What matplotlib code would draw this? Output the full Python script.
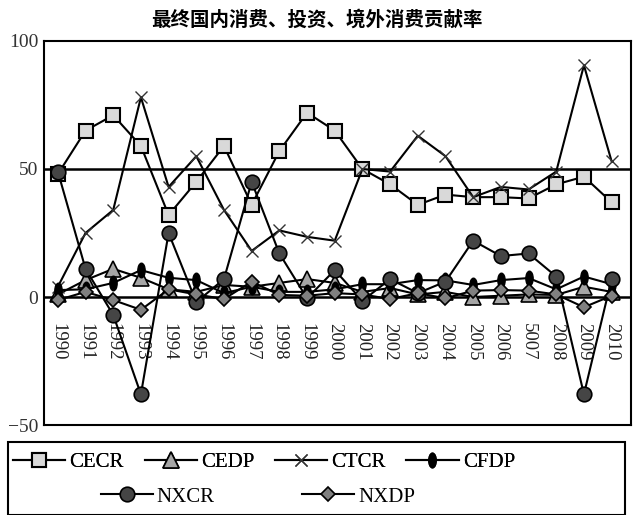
import matplotlib
matplotlib.use("Agg")
import matplotlib.pyplot as plt
from matplotlib.path import Path
from matplotlib.patches import Rectangle
import numpy as np

years = list(range(1990, 2011))
year_labels = ["1990", "1991", "1992", "1993", "1994", "1995", "1996", "1997",
               "1998", "1999", "2000", "2001", "2002", "2003", "2004", "2005",
               "2006", "5007", "2008", "2009", "2010"]

CECR = [48, 65, 71, 59, 32, 45, 59, 36, 57, 72, 65, 50, 44, 36, 40, 39, 39, 38.5, 44, 47, 37]
CEDP = [1, 6.6, 11, 7.5, 3, 2, 4.7, 4, 5.5, 7, 5.5, 2, 3.5, 1, 2, 0, 0.5, 1, 0.8, 4, 2]
CTCR = [4, 25, 34, 78, 43, 55, 34, 18, 26, 23.5, 22, 50, 49, 63, 55, 39, 43, 42, 49, 90.5, 53]
CFDP = [2.7, 3, 5.5, 10.5, 7.5, 6.6, 1.5, 4, 2, 2, 3, 5, 5, 6.6, 6.5, 4.7, 6.6, 7.4, 3, 8, 5]
NXCR = [49, 11, -7, -38, 25, -2, 7, 45, 17, -0.5, 10.5, -1.5, 7, 1.5, 6, 22, 16, 17, 8, -38, 7]
NXDP = [-1.2, 2, -1.2, -5, 3, 1, -0.8, 6, 0.8, 0.5, 1.5, 1, -0.8, 1.5, -0.5, 2.5, 2.7, 2.5, 1, -4, 0.5]

title = "最终国内消费、投资、境外消费贡献率"
serif = ["Liberation Serif", "DejaVu Serif"]

fig = plt.figure(figsize=(6.33, 5.15), dpi=100)
ax = fig.add_axes([44/633, 90/515, 587/633, 384/515])

uc = Path.unit_circle()
ellipse = Path(uc.vertices * np.array([0.5, 1.0]), uc.codes)

lw = 1.5
h = {}
h['CECR'], = ax.plot(years, CECR, color='black', lw=lw, marker='s', ms=10,
                     mfc='#d9d9d9', mec='black', mew=1.5, label='CECR', zorder=3)
h['CEDP'], = ax.plot(years, CEDP, color='black', lw=lw, marker='^', ms=11,
                     mfc='#a6a6a6', mec='black', mew=1.2, label='CEDP', zorder=3)
h['CTCR'], = ax.plot(years, CTCR, color='black', lw=lw, marker='x', ms=9,
                     mec='#333333', mew=1.0, label='CTCR', zorder=3)
h['CFDP'], = ax.plot(years, CFDP, color='black', lw=lw, marker=ellipse, ms=10.5,
                     mfc='black', mec='black', label='CFDP', zorder=3)
h['NXCR'], = ax.plot(years, NXCR, color='black', lw=lw, marker='o', ms=10.5,
                     mfc='#454545', mec='black', mew=1.2, label='NXCR', zorder=3)
h['NXDP'], = ax.plot(years, NXDP, color='black', lw=lw, marker='D', ms=7.5,
                     mfc='#808080', mec='black', mew=1.2, label='NXDP', zorder=3)

ax.axhline(50, color='black', lw=1.8, zorder=2)
ax.axhline(0, color='black', lw=1.8, zorder=2)

ax.set_xlim(1989.5, 2010.7)
ax.set_ylim(-50, 100)
ax.set_yticks([100, 50, 0, -50])
ax.set_yticklabels(["100", "50", "0", "\u221250"], fontfamily=serif, fontsize=14, color='#333333')
ax.tick_params(axis='y', length=0, pad=4)
ax.set_xticks([])
for s in ax.spines.values():
    s.set_linewidth(1.5)

for yr, lab in zip(years, year_labels):
    ax.text(yr, -10, lab, rotation=270, ha='center', va='top',
            fontfamily=serif, fontsize=13.5, color='#222222', zorder=1)

fig.text(0.5, 1 - 20/515, title, ha='center', va='center', fontsize=14,
         fontweight='bold', fontfamily=['Noto Sans CJK SC', 'DejaVu Sans'])

# legend box
fig.patches.append(Rectangle((8/633, 0), 617/633, 73/515, transform=fig.transFigure,
                             fill=False, edgecolor='black', lw=1.5))
leg1 = fig.legend([h[k] for k in ['CECR', 'CEDP', 'CTCR', 'CFDP']],
                  ['CECR', 'CEDP', 'CTCR', 'CFDP'], ncol=4, frameon=False,
                  loc='center', bbox_to_anchor=(264/633, 1 - 462/515),
                  prop={'family': serif, 'size': 15}, handlelength=2.5,
                  handletextpad=0.2, columnspacing=1.0, borderaxespad=0)
leg2 = fig.legend([h[k] for k in ['NXCR', 'NXDP']], ['NXCR', 'NXDP'], ncol=2,
                  frameon=False, loc='center', bbox_to_anchor=(258/633, 1 - 497/515),
                  prop={'family': serif, 'size': 15}, handlelength=2.5,
                  handletextpad=0.2, columnspacing=4.2, borderaxespad=0)
fig.add_artist(leg1)

fig.savefig("out.png", dpi=100)
